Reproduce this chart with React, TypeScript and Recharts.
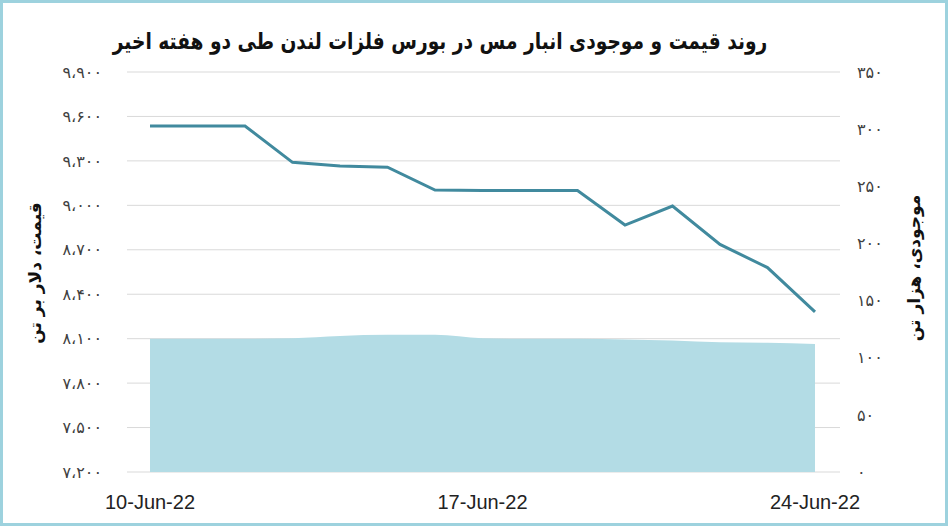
import React from 'react';
import { ComposedChart, Line, Area, XAxis, YAxis, CartesianGrid, Label } from 'recharts';

// daily points, 10 Jun to 24 Jun 2022
const dates = [
  '10-Jun-22', '11-Jun-22', '12-Jun-22', '13-Jun-22', '14-Jun-22',
  '15-Jun-22', '16-Jun-22', '17-Jun-22', '18-Jun-22', '19-Jun-22',
  '20-Jun-22', '21-Jun-22', '22-Jun-22', '23-Jun-22', '24-Jun-22',
];
// copper price, $ per tonne (left axis)
const priceValues = [9535, 9535, 9535, 9290, 9265, 9257, 9103, 9100, 9100, 9100, 8867, 8995, 8736, 8580, 8281];
// LME stock, thousand tonnes (right axis)
const stockValues = [116.5, 116.5, 116.5, 117, 119, 120, 120, 117, 116.5, 116.5, 116, 115, 113.5, 113, 112];

const priceTicks = [7200, 7500, 7800, 8100, 8400, 8700, 9000, 9300, 9600, 9900];
const stockTicks = [0, 50, 100, 150, 200, 250, 300, 350];

const title = 'روند قیمت و موجودی انبار مس در بورس فلزات لندن طی دو هفته اخیر';
const leftTitle = 'قیمت، دلار بر تن';
const rightTitle = 'موجودی، هزار تن';

const faDigits = '۰۱۲۳۴۵۶۷۸۹';
const toFa = (n: number) =>
  n.toLocaleString('en-US').replace(/\d/g, d => faDigits[+d]).replace(/,/g, '،');

const data = dates.map((date, i) => ({ date, price: priceValues[i], stock: stockValues[i] }));

const FA_FONT = '"DejaVu Sans", sans-serif';
const tickStyle = { fill: '#404040', fontSize: 16, fontFamily: FA_FONT };

const AxisTitle = ({ x, y, text }: { x: number; y: number; text: string }) => (
  <text
    x={x}
    y={y}
    transform={`rotate(-90 ${x} ${y})`}
    textAnchor="middle"
    dominantBaseline="middle"
    fill="#111"
    fontSize={17}
    fontWeight="bold"
    fontFamily={FA_FONT}
  >
    {text}
  </text>
);

export default function App() {
  return (
    <div style={{ position: 'relative', width: 948, height: 526, background: '#fff', overflow: 'hidden' }}>
      <style>{'body{margin:0}'}</style>
      <div
        style={{
          position: 'absolute',
          top: 26,
          left: 0,
          width: 880,
          textAlign: 'center',
          direction: 'rtl',
          fontFamily: FA_FONT,
          fontWeight: 'bold',
          fontSize: 23,
          lineHeight: '30px',
          color: '#111',
        }}
      >
        <span style={{ display: 'inline-block', transform: 'scaleX(0.81)' }}>{title}</span>
      </div>
      <div style={{ position: 'absolute', top: 0, left: 0 }}>
        <ComposedChart width={948} height={526} data={data} margin={{ top: 72, right: 0, bottom: 14, left: 0 }}>
          <CartesianGrid yAxisId="left" vertical={false} stroke="#d9d9d9" strokeWidth={1} />
          <XAxis
            dataKey="date"
            interval={6}
            axisLine={false}
            tickLine={false}
            tickSize={0}
            tickMargin={23}
            height={40}
            padding={{ left: 23, right: 25 }}
            tick={{ fill: '#222', fontSize: 20, fontFamily: '"Liberation Sans Narrow", "Liberation Sans", sans-serif' }}
          />
          <YAxis
            yAxisId="left"
            orientation="left"
            width={127}
            domain={[7200, 9900]}
            ticks={priceTicks}
            allowDataOverflow
            axisLine={false}
            tickLine={false}
            tickSize={0}
            tickMargin={25}
            tickFormatter={toFa}
            tick={tickStyle}
          >
            <Label content={() => <AxisTitle x={36} y={273} text={leftTitle} />} />
          </YAxis>
          <YAxis
            yAxisId="right"
            orientation="right"
            width={108}
            domain={[0, 350]}
            ticks={stockTicks}
            axisLine={false}
            tickLine={false}
            tickSize={0}
            tickMargin={17}
            tickFormatter={toFa}
            tick={tickStyle}
          >
            <Label content={() => <AxisTitle x={915} y={268} text={rightTitle} />} />
          </YAxis>
          <Area
            yAxisId="right"
            type="monotone"
            dataKey="stock"
            fill="#b3dce5"
            fillOpacity={1}
            stroke="none"
            isAnimationActive={false}
          />
          <Line
            yAxisId="left"
            type="linear"
            dataKey="price"
            stroke="#418a9e"
            strokeWidth={3}
            dot={false}
            isAnimationActive={false}
          />
        </ComposedChart>
      </div>
      <div
        style={{
          position: 'absolute',
          inset: 0,
          border: '3px solid #9dd2de',
          boxSizing: 'border-box',
          pointerEvents: 'none',
        }}
      />
    </div>
  );
}
